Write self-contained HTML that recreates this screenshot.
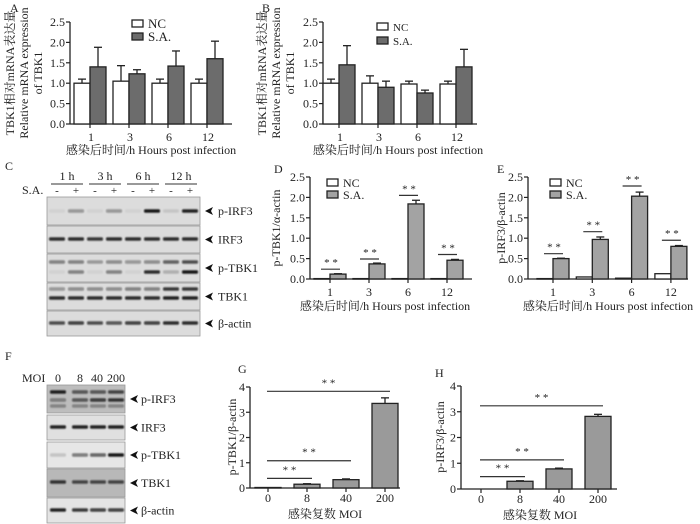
<!DOCTYPE html>
<html><head><meta charset="utf-8"><style>
body{margin:0;background:#fff}
svg{display:block;font-family:"Liberation Serif","Noto Serif CJK SC",serif}
text{fill:#222}
</style></head><body>
<svg id="fig" width="700" height="524" viewBox="0 0 700 524" xmlns="http://www.w3.org/2000/svg">
<defs><filter id="bl" x="-50%" y="-100%" width="200%" height="300%"><feGaussianBlur stdDeviation="0.9"/></filter></defs>
<g id="root"></g>
</svg>
<script>
// Panel A data
const catsTime = ['1','3','6','12'];
const aNC = [1.0,1.05,1.0,1.0];
const aNCErr = [0.1,0.38,0.1,0.1];
const aSA = [1.4,1.23,1.42,1.6];
const aSAErr = [0.48,0.1,0.37,0.43];
// Panel B data
const bNC = [1.0,1.0,0.98,0.98];
const bNCErr = [0.1,0.18,0.07,0.07];
const bSA = [1.45,0.9,0.76,1.4];
const bSAErr = [0.47,0.15,0.07,0.43];
// Panel D data
const dNC = [0.01,0.01,0.01,0.01];
const dSA = [0.12,0.37,1.84,0.46];
const dSAErr = [0.01,0.02,0.09,0.02];
const dSig = [0.24,0.49,2.05,0.6];
// Panel E data
const eNC = [0.01,0.05,0.02,0.13];
const eSA = [0.5,0.97,2.03,0.8];
const eSAErr = [0.01,0.06,0.1,0.02];
const eSig = [0.62,1.16,2.28,0.95];
// Panel G/H data
const catsMOI = ['0','8','40','200'];
const gVals = [0.02,0.15,0.33,3.35];
const gErr = [0,0.02,0.03,0.22];
const gSig = [0.38,1.08,3.83];
const hVals = [0,0.3,0.78,2.82];
const hErr = [0,0.02,0.03,0.08];
const hSig = [0.48,1.13,3.23];
const ticks25 = [0,0.5,1.0,1.5,2.0,2.5];
const ticks4 = [0,1,2,3,4];

const NS='http://www.w3.org/2000/svg';
const root=document.getElementById('root');
function el(tag,attrs,parent,txt){const e=document.createElementNS(NS,tag);for(const k in attrs)e.setAttribute(k,attrs[k]);if(txt!==undefined)e.textContent=txt;(parent||root).appendChild(e);return e;}
function txt(x,y,s,size,anchor,parent,name,rot){const t=el('text',{x:x,y:y,'font-size':size,'text-anchor':anchor||'start'},parent,s);if(rot)t.setAttribute('transform','rotate(-90 '+x+' '+y+')');


return t;}

function axes(g,c,ticks,dec,cats){
  const y=v=>c.yBot-v/c.max*(c.yBot-c.yTop);
  const ya=el('line',{x1:c.ax,y1:c.yTop,x2:c.ax,y2:c.yBot,stroke:'#222','stroke-width':1.3},g);
  
  
  const xa=el('line',{x1:c.ax,y1:c.yBot,x2:c.xEnd,y2:c.yBot,stroke:'#222','stroke-width':1.3},g);
  
  
  ticks.forEach(v=>{
    el('line',{x1:c.ax-4,y1:y(v),x2:c.ax,y2:y(v),stroke:'#222','stroke-width':1.2},g);
    txt(c.ax-5,y(v)+4,v.toFixed(dec),12,'end',g,'y-tick-label');
  });
  cats.forEach((s,i)=>{const cx=c.c0+i*c.step;
    el('line',{x1:cx,y1:c.yBot,x2:cx,y2:c.yBot+4,stroke:'#222','stroke-width':1.2},g);
    txt(cx+(c.lblOff||0),c.yBot+(c.lblDy||17),s,12,'middle',g,'x-tick-label');});
  return y;
}
function bar(g,x,w,y0,y1,fill,name){const r=el('rect',{x:x,y:y1,width:w,height:Math.max(0.5,y0-y1),fill:fill,stroke:'#222','stroke-width':1.3},g);
  
  }
function err(g,cx,yv,ye){el('line',{x1:cx,y1:yv,x2:cx,y2:ye,stroke:'#222','stroke-width':1.3},g);el('line',{x1:cx-4,y1:ye,x2:cx+4,y2:ye,stroke:'#222','stroke-width':1.3},g);}

function grouped(name,c,nc,ncE,sa,saE,sig){
  const g=el('g',{});
  
  
  const y=axes(g,c,ticks25,1,catsTime);
  catsTime.forEach((s,i)=>{const cx=c.c0+i*c.step;
    bar(g,cx-c.w,c.w,c.yBot,y(nc[i]),'#fff','bar-nc-'+s);
    if(ncE) err(g,cx-c.w/2,y(nc[i]),y(nc[i]+ncE[i]));
    bar(g,cx,c.w,c.yBot,y(sa[i]),c.saFill,'bar-sa-'+s);
    if(saE[i]>0) err(g,cx+c.w/2,y(sa[i]),y(sa[i]+saE[i]));
    if(sig){el('line',{x1:cx-9,y1:y(sig[i]),x2:cx+10,y2:y(sig[i]),stroke:'#333','stroke-width':1.2},g);
      txt(cx+1,y(sig[i])-3,'* *',11,'middle',g,'significance-mark');}
  });
  return g;
}
function single(name,c,vals,errs,sig){
  const g=el('g',{});
  
  
  const y=axes(g,c,ticks4,0,catsMOI);
  catsMOI.forEach((s,i)=>{const cx=c.c0+i*c.step;
    if(vals[i]>0){bar(g,cx-13,26,c.yBot,y(vals[i]),'#9a9a9a','bar-moi-'+s);
    if(errs[i]>0) err(g,cx,y(vals[i]),y(vals[i]+errs[i]));}
  });
  sig.forEach((v,k)=>{const x1=c.c0-1,x2=c.c0+(k+1)*c.step+5;
    el('line',{x1:x1,y1:y(v),x2:x2,y2:y(v),stroke:'#333','stroke-width':1.2},g);
    txt((x1+x2)/2,y(v)-5,'* *',11,'middle',g,'significance-mark');});
  return g;
}
function legend(g,x,y,gap,fill,size){
  [['NC','#fff'],['S.A.',fill]].forEach((p,i)=>{
    const r=el('rect',{x:x,y:y+i*gap,width:11,height:7,fill:p[1],stroke:'#222','stroke-width':1.3},g);
    
    
    txt(x+16,y+i*gap+8,p[0],size,'start',g,'legend-entry');});
}

// A
let gA=grouped('chart-a',{ax:70,yTop:22,yBot:124,max:2.5,c0:90,step:39,w:16,xEnd:232,saFill:'#6c6c6c',lblOff:1},aNC,aNCErr,aSA,aSAErr,null);
legend(gA,132,20,13,'#6c6c6c',13);
txt(10,12,'A',12,'start',gA,'panel-label');
txt(14,73,'TBK1相对mRNA表达量',12,'middle',gA,'y-axis-title',true);
txt(28,73,'Relative mRNA expression',12,'middle',gA,'y-axis-title',true);
txt(42,73,'of TBK1',12,'middle',gA,'y-axis-title',true);
txt(151,154,'感染后时间/h  Hours post infection',12,'middle',gA,'x-axis-title');
// B
let gB=grouped('chart-b',{ax:323,yTop:22,yBot:124,max:2.5,c0:339,step:39,w:16,xEnd:477,saFill:'#6c6c6c',lblOff:1},bNC,bNCErr,bSA,bSAErr,null);
legend(gB,377,23,14,'#6c6c6c',11);
txt(262,12,'B',12,'start',gB,'panel-label');
txt(266,73,'TBK1相对mRNA表达量',12,'middle',gB,'y-axis-title',true);
txt(280,73,'Relative mRNA expression',12,'middle',gB,'y-axis-title',true);
txt(294,73,'of TBK1',12,'middle',gB,'y-axis-title',true);
txt(398,154,'感染后时间/h  Hours post infection',12,'middle',gB,'x-axis-title');
// D
let gD=grouped('chart-d',{ax:310,yTop:177,yBot:279,max:2.5,c0:330,step:39,w:16,xEnd:472,saFill:'#a3a3a3'},dNC,null,dSA,dSAErr,dSig);
legend(gD,327,179,12,'#a3a3a3',12);
txt(274,173,'D',12,'start',gD,'panel-label');
txt(280,228,'p-TBK1/α-actin',12,'middle',gD,'y-axis-title',true);
txt(385,310,'感染后时间/h  Hours post infection',12,'middle',gD,'x-axis-title');
// E
let gE=grouped('chart-e',{ax:528,yTop:177,yBot:279,max:2.5,c0:553,step:39.3,w:16,xEnd:688,saFill:'#a3a3a3'},eNC,null,eSA,eSAErr,eSig);
legend(gE,550,179,12,'#a3a3a3',12);
txt(497,173,'E',12,'start',gE,'panel-label');
txt(505,228,'p-IRF3/β-actin',12,'middle',gE,'y-axis-title',true);
txt(608,310,'感染后时间/h  Hours post infection',12,'middle',gE,'x-axis-title');
// G
let gG=single('chart-g',{ax:250,yTop:387,yBot:488,max:4,c0:268,step:39,xEnd:400,lblDy:14},gVals,gErr,gSig);
txt(238,373,'G',12,'start',gG,'panel-label');
txt(236,437,'p-TBK1/β-actin',12,'middle',gG,'y-axis-title',true);
txt(325,518,'感染复数 MOI',12,'middle',gG,'x-axis-title');
// H
let gH=single('chart-h',{ax:461,yTop:386,yBot:489,max:4,c0:481,step:39,xEnd:617,lblDy:14},hVals,hErr,hSig);
txt(435,377,'H',12,'start',gH,'panel-label');
txt(444,437,'p-IRF3/β-actin',12,'middle',gH,'y-axis-title',true);
txt(540,519,'感染复数 MOI',12,'middle',gH,'x-axis-title');

// Blots
function blot(parent,name,x,y,w,h,lanes,bands,bg){
  const g=el('g',{},parent);
  
  
  el('rect',{x:x,y:y,width:w,height:h,fill:bg||'#dcdcdc',stroke:'#999','stroke-width':0.8},g);
  bands.forEach(b=>{lanes.forEach((lx,i)=>{const a=b.a[i];
    el('rect',{x:lx-8,y:b.y-1.8,width:16,height:3.6,rx:1.5,fill:'#111','fill-opacity':a,filter:'url(#bl)'},g);});});
  const arrow=el('polygon',{points:(x+w+5)+','+(y+h/2)+' '+(x+w+13)+','+(y+h/2-4)+' '+(x+w+11)+','+(y+h/2)+' '+(x+w+13)+','+(y+h/2+4),fill:'#111'},g);
  
  
  return g;
}
const gC=el('g',{});


txt(5,170,'C',12,'start',gC,'panel-label');
const lanesC=[57,76,95,114,133,152,171,190];
[['1 h',67],['3 h',105],['6 h',143],['12 h',181]].forEach(p=>{txt(p[1],180,p[0],12,'middle',gC,'time-label');
  el('line',{x1:p[1]-16,y1:184,x2:p[1]+16,y2:184,stroke:'#333','stroke-width':1},gC);});
txt(22,194,'S.A.',12,'start',gC,'sa-label');
lanesC.forEach((lx,i)=>txt(lx,194,i%2?'+':'-',11,'middle',gC,'lane-sign'));
const rowsC=[['p-IRF3',197,28,[{y:211,a:[0.05,0.35,0.05,0.35,0.05,0.95,0.1,0.9]}]],
 ['IRF3',226,27,[{y:239,a:[0.85,0.85,0.8,0.85,0.85,0.85,0.85,0.85]}]],
 ['p-TBK1',254,28,[{y:262,a:[0.45,0.45,0.3,0.4,0.35,0.4,0.6,0.7]},{y:272,a:[0.05,0.45,0.05,0.45,0.05,0.85,0.2,0.95]}]],
 ['TBK1',283,27,[{y:289,a:[0.35,0.4,0.4,0.4,0.45,0.45,0.8,0.8]},{y:298,a:[0.85,0.85,0.85,0.85,0.85,0.85,0.9,0.9]}]],
 ['β-actin',311,25,[{y:323,a:[0.7,0.75,0.7,0.65,0.75,0.75,0.85,0.85]}]]];
rowsC.forEach(r=>{blot(gC,'blot-row-'+r[0],47,r[1],153,r[2],lanesC,r[3]);txt(218,r[1]+r[2]/2+4,r[0],12,'start',gC,'blot-label');});

const gF=el('g',{});


txt(5,360,'F',12,'start',gF,'panel-label');
const lanesF=[58,80,98,116];
txt(22,382,'MOI',12,'start',gF,'moi-label');
[['0',58],['8',80],['40',97],['200',116]].forEach(p=>txt(p[1],382,p[0],12,'middle',gF,'moi-value'));
const rowsF=[['p-IRF3',385,28,[{y:392,a:[0.9,0.6,0.6,0.7]},{y:400,a:[0.4,0.6,0.75,0.8]},{y:406,a:[0.3,0.3,0.3,0.3]}],'#bdbdbd'],
 ['IRF3',415,25,[{y:427,a:[0.9,0.9,0.9,0.9]}],'#e0e0e0'],
 ['p-TBK1',442,26,[{y:455,a:[0.15,0.5,0.6,0.95]}],'#e6e6e6'],
 ['TBK1',469,28,[{y:482,a:[0.8,0.7,0.7,0.7]}],'#b8b8b8'],
 ['β-actin',498,25,[{y:510,a:[0.9,0.8,0.75,0.75]}],'#e4e4e4']];
rowsF.forEach(r=>{blot(gF,'blot-row-'+r[0],47,r[1],78,r[2],lanesF,r[3],r[4]);txt(141,r[1]+r[2]/2+4,r[0],12,'start',gF,'blot-label');});
</script>
</body></html>
